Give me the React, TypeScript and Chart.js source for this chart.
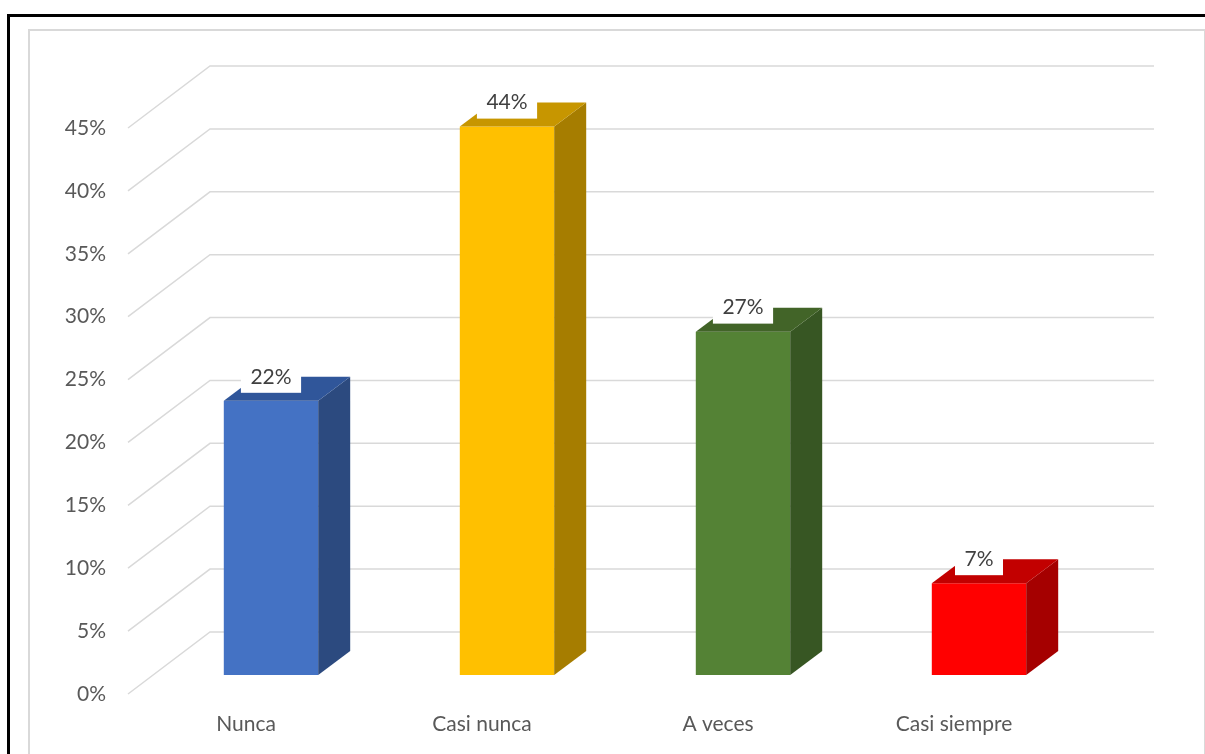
import React, { useEffect, useRef } from 'react';
import { Chart, registerables } from 'chart.js';

Chart.register(...registerables);

// ---- data ----
const categories = ['Nunca', 'Casi nunca', 'A veces', 'Casi siempre'];
const percentValues = [21.8, 43.6, 27.3, 7.3];
const yMin = 0;
const yMax = 45;
const yStep = 5;

// ---- styles ----
const frontColors = ['#4472C4', '#FFC000', '#548235', '#FF0000'];
const sideColors = ['#2C4A7F', '#A67D00', '#375623', '#A50000'];
const topColors = ['#30569A', '#C79600', '#426428', '#C20000'];
const FONT = 'Lato, "Open Sans", sans-serif';
const DEPTH_X = 32;
const DEPTH_Y = -24;
const BACK_DX = 57;
const BACK_DY = -43;
const FRONT_DX = -25;
const FRONT_DY = 19;

const wall3dPlugin = {
  id: 'wall3d',
  beforeDatasetsDraw(chart: any) {
    const { ctx, chartArea, scales } = chart;
    const y = scales.y;
    ctx.save();
    ctx.strokeStyle = '#D9D9D9';
    ctx.lineWidth = 1.5;
    y.ticks.forEach((t: any) => {
      const py = y.getPixelForValue(t.value);
      ctx.beginPath();
      ctx.moveTo(chartArea.left + FRONT_DX, py + FRONT_DY);
      ctx.lineTo(chartArea.left + BACK_DX, py + BACK_DY);
      ctx.lineTo(chartArea.right + BACK_DX, py + BACK_DY);
      ctx.stroke();
    });
    ctx.restore();
  },
  afterDatasetsDraw(chart: any) {
    const { ctx } = chart;
    const meta = chart.getDatasetMeta(0);
    ctx.save();
    meta.data.forEach((bar: any, i: number) => {
      const { x, y, base, width } = bar.getProps(['x', 'y', 'base', 'width'], true);
      const l = x - width / 2;
      const r = x + width / 2;
      ctx.fillStyle = sideColors[i];
      ctx.beginPath();
      ctx.moveTo(r, y);
      ctx.lineTo(r + DEPTH_X, y + DEPTH_Y);
      ctx.lineTo(r + DEPTH_X, base + DEPTH_Y);
      ctx.lineTo(r, base);
      ctx.closePath();
      ctx.fill();
      ctx.fillStyle = topColors[i];
      ctx.beginPath();
      ctx.moveTo(l, y);
      ctx.lineTo(l + DEPTH_X, y + DEPTH_Y);
      ctx.lineTo(r + DEPTH_X, y + DEPTH_Y);
      ctx.lineTo(r, y);
      ctx.closePath();
      ctx.fill();

      const text = `${Math.round(percentValues[i])}%`;
      ctx.font = `21px ${FONT}`;
      const tw = ctx.measureText(text).width;
      const bw = tw + 19;
      ctx.fillStyle = '#FFFFFF';
      ctx.fillRect(x - bw / 2, y - 40, bw, 32);
      ctx.fillStyle = '#404040';
      ctx.textAlign = 'center';
      ctx.textBaseline = 'middle';
      ctx.fillText(text, x, y - 24);
    });
    ctx.restore();
  },
};

export default function App() {
  const ref = useRef<HTMLCanvasElement>(null);
  useEffect(() => {
    if (!ref.current) return;
    const chart = new Chart(ref.current, {
      type: 'bar',
      data: {
        labels: categories,
        datasets: [
          {
            data: percentValues,
            backgroundColor: frontColors,
            borderWidth: 0,
            barPercentage: 0.4,
            categoryPercentage: 1,
          },
        ],
      },
      options: {
        responsive: false,
        animation: false,
        layout: { padding: { top: 109, right: 108, left: 0, bottom: 0 } },
        plugins: { legend: { display: false }, tooltip: { enabled: false } },
        scales: {
          x: {
            grid: { display: false, drawTicks: false },
            border: { display: false },
            ticks: {
              color: '#595959',
              font: { family: FONT, size: 21 },
              padding: 37,
              labelOffset: FRONT_DX,
              maxRotation: 0,
            },
            afterFit: (s: any) => {
              s.height = 79;
            },
          },
          y: {
            min: yMin,
            max: yMax,
            grid: { display: false, drawTicks: false },
            border: { display: false },
            ticks: {
              stepSize: yStep,
              color: '#595959',
              font: { family: FONT, size: 21 },
              padding: 47,
              labelOffset: FRONT_DY,
              callback: (v: any) => `${v}%`,
            },
            afterFit: (s: any) => {
              s.width = 153;
            },
          },
        },
      },
      plugins: [wall3dPlugin],
    });
    return () => chart.destroy();
  }, []);

  return (
    <div
      style={{
        position: 'absolute',
        left: 0,
        top: 0,
        width: 1205,
        height: 754,
        overflow: 'hidden',
        background: '#FFFFFF',
      }}
    >
      <div
        style={{
          position: 'absolute',
          left: 7,
          top: 14,
          width: 1400,
          height: 900,
          borderLeft: '3px solid #000000',
          borderTop: '3px solid #000000',
        }}
      />
      <div
        style={{
          position: 'absolute',
          left: 28,
          top: 29,
          width: 1174,
          height: 900,
          border: '2px solid #D9D9D9',
        }}
      />
      <canvas
        ref={ref}
        width={1205}
        height={754}
        style={{ position: 'absolute', left: 0, top: 0 }}
      />
    </div>
  );
}
